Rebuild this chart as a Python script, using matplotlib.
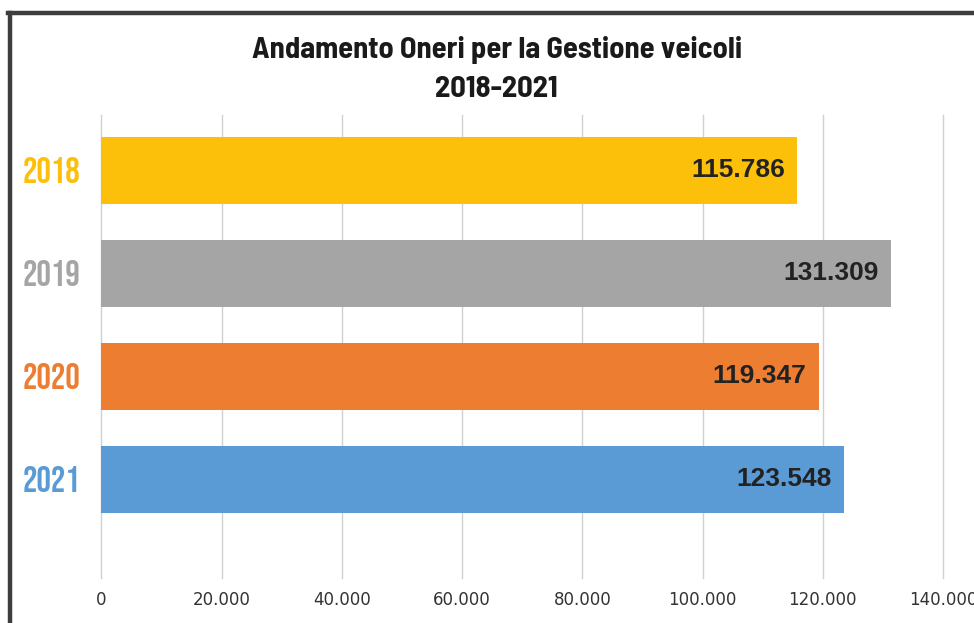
import matplotlib
matplotlib.use('Agg')
import matplotlib.pyplot as plt
from matplotlib.lines import Line2D

# dati
anni = ['2018', '2019', '2020', '2021']
oneri = [115786, 131309, 119347, 123548]
etichette = ['115.786', '131.309', '119.347', '123.548']
colori = ['#FDC00A', '#A5A5A5', '#ED7D31', '#5B9BD5']
xticks = [0, 20000, 40000, 60000, 80000, 100000, 120000, 140000]
xtick_labels = ['0', '20.000', '40.000', '60.000', '80.000', '100.000', '120.000', '140.000']

# famiglie di font (con ripiego)
font_titolo = ['Barlow Semi Condensed', 'Roboto Condensed', 'PT Sans Narrow', 'DejaVu Sans']
font_anni = ['Bebas Neue', 'Oswald', 'Roboto Condensed', 'DejaVu Sans']

fig = plt.figure(figsize=(9.74, 6.23), dpi=100)
fig.patch.set_facecolor('white')

ax = fig.add_axes([0.1042, 0.0722, 0.8640, 0.7432])

pos = list(range(len(anni)))
ax.barh(pos, oneri, height=0.65, color=colori, zorder=2)

# etichette dei valori dentro la barra
for p, v, lab in zip(pos, oneri, etichette):
    ax.annotate(lab, xy=(v, p), xytext=(-9, 0), textcoords='offset points',
                ha='right', va='center', fontsize=19, fontweight='bold',
                family=['Liberation Sans', 'DejaVu Sans'], color='#222222', zorder=3)

ax.set_xlim(0, 140000)
ax.set_ylim(3.96, -0.534)
ax.set_xticks(xticks)
ax.set_xticklabels(xtick_labels, fontsize=12, color='#333333', family='DejaVu Sans')
ax.set_yticks(pos)
ax.set_yticklabels(anni)
for lab, c in zip(ax.get_yticklabels(), colori):
    lab.set_color(c)
    lab.set_fontsize(26)
    lab.set_fontweight('bold')
    lab.set_family(font_anni)

ax.tick_params(axis='both', length=0)
ax.tick_params(axis='y', pad=15)
ax.tick_params(axis='x', pad=9)
ax.xaxis.grid(True, color='#d0d0d0', linewidth=1, zorder=0)
for g in ax.get_xgridlines():
    g.set_clip_on(False)
ax.set_axisbelow(True)
for s in ax.spines.values():
    s.set_visible(False)

# titolo
fig.text(0.510, 0.920, 'Andamento Oneri per la Gestione veicoli', ha='center', va='center',
         fontsize=22, fontweight='bold', family=font_titolo, color='#1a1a1a')
fig.text(0.510, 0.857, '2018-2021', ha='center', va='center',
         fontsize=22, fontweight='bold', family=font_titolo, color='#1a1a1a')

# cornice
fig.add_artist(Line2D([0.0098, 0.0098], [0.0, 0.979], color='#3d3d3d', linewidth=3.2,
                      transform=fig.transFigure))
fig.add_artist(Line2D([0.008, 1.0], [0.979, 0.979], color='#3d3d3d', linewidth=3.2,
                      transform=fig.transFigure))

fig.savefig('out.png', dpi=100)
